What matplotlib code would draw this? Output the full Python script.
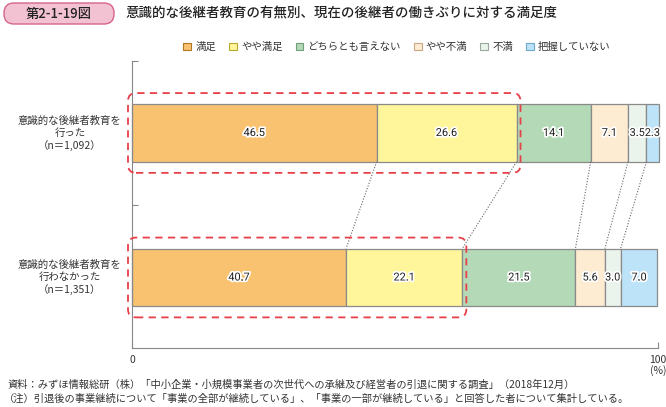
import matplotlib
matplotlib.use("Agg")
import matplotlib.pyplot as plt
import matplotlib.patheffects as pe
from matplotlib.patches import FancyBboxPatch, Patch
from matplotlib.transforms import IdentityTransform
from matplotlib import font_manager
import numpy as np

plt.rcParams['font.family'] = ['Noto Sans CJK JP', 'DejaVu Sans']

# ---- data ----
categories = ["満足", "やや満足", "どちらとも言えない", "やや不満", "不満", "把握していない"]
group_labels = ["意識的な後継者教育を\n行った\n（n＝1,092）",
                "意識的な後継者教育を\n行わなかった\n（n＝1,351）"]
values_done = [46.5, 26.6, 14.1, 7.1, 3.5, 2.3]
values_not = [40.7, 22.1, 21.5, 5.6, 3.0, 7.0]
colors = ["#F9C271", "#FFF59B", "#B3D9B6", "#FDEBD2", "#EBF4EC", "#BDE3F8"]
edge_colors = ["#B07820", "#B8A830", "#6FA077", "#C8A880", "#9AA89C", "#6FA8C8"]
title = "意識的な後継者教育の有無別、現在の後継者の働きぶりに対する満足度"
fig_no = "第2-1-19図"
source = "資料：みずほ情報総研（株）「中小企業・小規模事業者の次世代への承継及び経営者の引退に関する調査」（2018年12月）"
note = "（注）引退後の事業継続について「事業の全部が継続している」、「事業の一部が継続している」と回答した者について集計している。"

names = {f.name for f in font_manager.fontManager.ttflist}
num_font = ["Liberation Sans Narrow", "DejaVu Sans"] if "Liberation Sans Narrow" in names else ["Roboto", "DejaVu Sans"]

W, H = 666, 407
fig = plt.figure(figsize=(W / 100, H / 100), dpi=100)
ax = fig.add_axes([132 / W, 1 - 348 / H, (658 - 132) / W, (348 - 61) / H])

ypos = [1.0, 0.0]
bar_h = 0.40
series = [values_done, values_not]
for yi, vals in zip(ypos, series):
    left = 0.0
    for v, c in zip(vals, colors):
        ax.barh(yi, v, left=left, height=bar_h, color=c, edgecolor="#8a8a8a",
                linewidth=0.9, clip_on=False)
        t = ax.text(left + v / 2, yi, f"{v:.1f}", ha="center", va="center",
                    fontsize=7.9, color="#222222", family=num_font)
        t.set_path_effects([pe.withStroke(linewidth=2.5, foreground="white")])
        left += v

ax.set_xlim(0, 100)
ax.set_ylim(-0.488, 1.498)

# connector dotted lines
cum1 = np.cumsum(values_done)
cum2 = np.cumsum(values_not)
for a, b in zip(cum1[:-1], cum2[:-1]):
    ax.plot([a, b], [ypos[0] - bar_h / 2, ypos[1] + bar_h / 2], linestyle=(0, (1, 1.5)),
            color="#666666", linewidth=0.8, zorder=1)

# spines / ticks
for s in ["top", "right"]:
    ax.spines[s].set_visible(False)
ax.spines["left"].set_color("#888888")
ax.spines["bottom"].set_color("#888888")
ax.set_yticks([0.5, 1.498])
ax.set_yticklabels([])
ax.tick_params(axis="y", direction="in", length=4, color="#888888")
ax.set_xticks([0, 100])
ax.set_xticklabels(["0", "100"])
ax.tick_params(axis="x", direction="in", length=4, color="#888888", labelsize=7.5,
               labelcolor="#333333", pad=5)
fig.text(658 / W, 1 - 371 / H, "(%)", ha="center", va="center", fontsize=7.5,
         color="#333333")

# group labels
for yi, lab in zip(ypos, group_labels):
    ax.text(-11.8, yi, lab, ha="center", va="center", fontsize=7.5, color="#333333",
            linespacing=1.25, transform=ax.transData)

# dashed rounded boxes (display coords)
fig.canvas.draw()
def dashed_box(x1, x2, yc, padx_px=4, pady_px=11):
    (dx1, dy1) = ax.transData.transform((x1, yc - bar_h / 2))
    (dx2, dy2) = ax.transData.transform((x2, yc + bar_h / 2))
    box = FancyBboxPatch((dx1 - padx_px, dy1 - pady_px), (dx2 - dx1) + 2 * padx_px,
                         (dy2 - dy1) + 2 * pady_px,
                         boxstyle="round,pad=0,rounding_size=8",
                         transform=IdentityTransform(), fill=False,
                         edgecolor="#E8404A", linewidth=1.3, linestyle=(0, (4, 3)),
                         zorder=5)
    fig.add_artist(box)

dashed_box(0, cum1[1], ypos[0])
dashed_box(0, cum2[1], ypos[1])

# legend
handles = [Patch(facecolor=c, edgecolor=e, linewidth=0.8) for c, e in zip(colors, edge_colors)]
fig.legend(handles, categories, loc="center", bbox_to_anchor=(397 / W, 1 - 47 / H),
           ncol=6, frameon=False, fontsize=7.5, handlelength=0.75, handleheight=0.75,
           handletextpad=0.4, columnspacing=1.25, labelcolor="#333333")

# title box
tb = FancyBboxPatch((4 / W, 1 - 24 / H), 110 / W, 21 / H,
                    boxstyle="round,pad=0,rounding_size=0.015",
                    transform=fig.transFigure, facecolor="#F2C2D2", edgecolor="#D6648E",
                    linewidth=1.0, mutation_aspect=W / H)
fig.add_artist(tb)
fig.text(59 / W, 1 - 13.5 / H, fig_no, ha="center", va="center", fontsize=9.5,
         color="#222222", fontweight="medium")
fig.text(125 / W, 1 - 13.5 / H, title, ha="left", va="center", fontsize=9.7,
         color="#222222", fontweight="medium")

# footer
fig.text(8 / W, 1 - 385 / H, source, ha="left", va="center", fontsize=7.4, color="#333333")
fig.text(4 / W, 1 - 399 / H, note, ha="left", va="center", fontsize=7.4, color="#333333")

fig.savefig("out.png", dpi=100)
